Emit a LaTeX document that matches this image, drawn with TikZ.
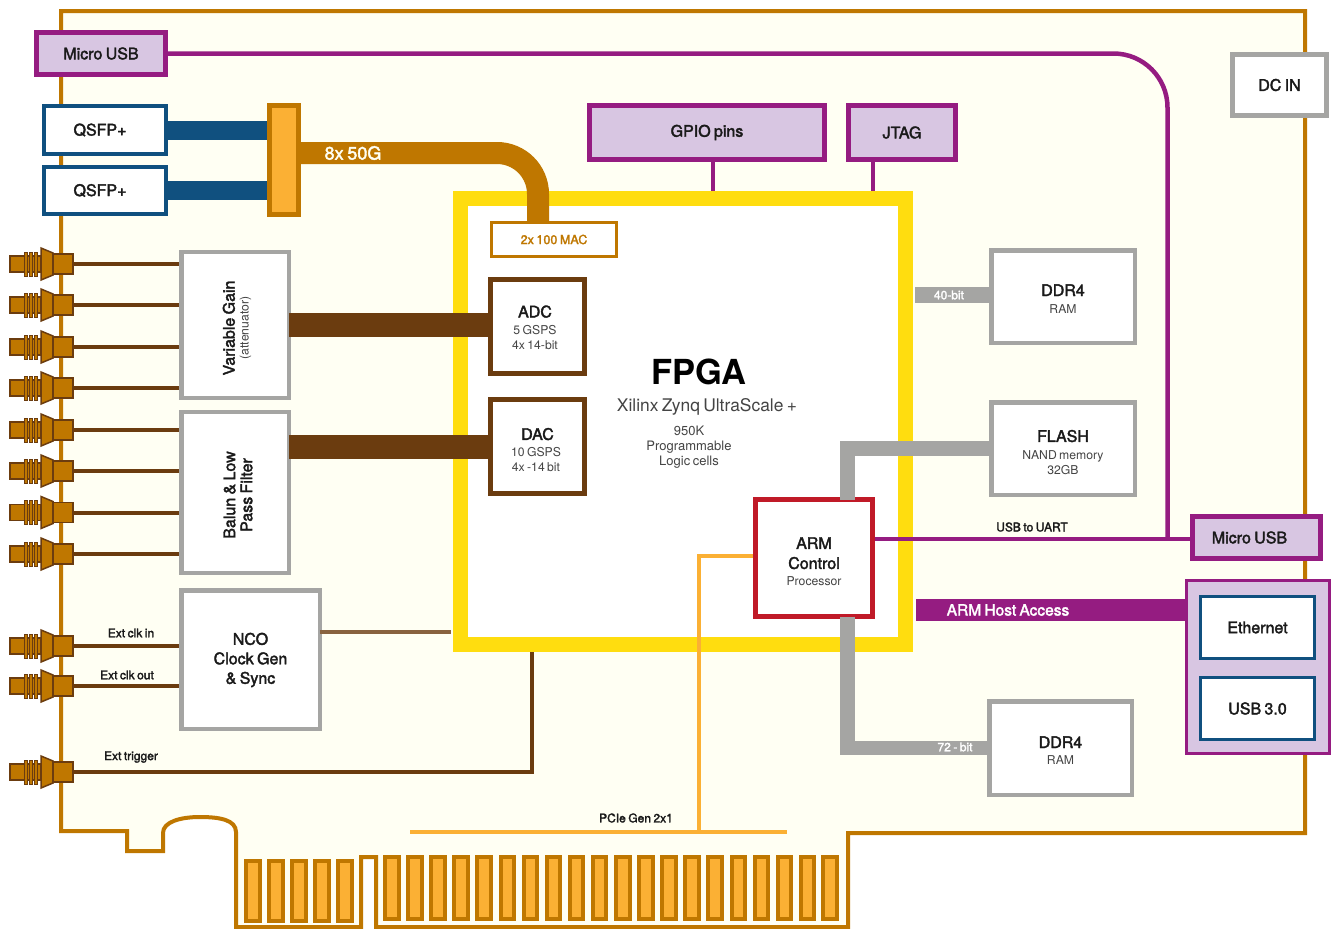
\documentclass[tikz,border=0pt]{standalone}
\usepackage{fontspec}
\setmainfont[WordSpace=0.7]{TeX Gyre Heros}
\newfontfamily\medfont[FakeBold=2.2,WordSpace=0.75]{TeX Gyre Heros}
\usetikzlibrary{calc}

\definecolor{boardline}{HTML}{BF7700}
\definecolor{boardfill}{HTML}{FFFFF3}
\definecolor{goldfill}{HTML}{FBB034}
\definecolor{fpgayellow}{HTML}{FFDD0F}
\definecolor{brownline}{HTML}{6B3C0F}
\definecolor{nodegray}{HTML}{A5A5A3}
\definecolor{purpleline}{HTML}{951C81}
\definecolor{lilacfill}{HTML}{D8C6E2}
\definecolor{blueline}{HTML}{10507F}
\definecolor{armred}{HTML}{C01A28}
\definecolor{inktext}{HTML}{1A1A1A}
\definecolor{subtext}{HTML}{444444}

\newcommand{\fs}[1]{\fontsize{#1}{#1}\selectfont}
\newcommand{\boxtitle}[1]{{\medfont\fs{16}\textcolor{inktext}{#1}}}
\newcommand{\boxsub}[1]{{\fs{12.2}\textcolor{subtext}{#1}}}
\newcommand{\dropby}[1]{\rule{0pt}{#1pt}}

\begin{document}
\begin{tikzpicture}[
    x=1pt, y=-1pt,
    block/.style={rectangle, draw, outer sep=0pt, inner sep=1pt, align=center, fill=white, font=\fs{16}},
    grayblock/.style={block, draw=nodegray, line width=4.5pt},
    portblock/.style={block, draw=purpleline, fill=lilacfill, line width=5pt},
    blueblock/.style={block, draw=blueline},
    brownblock/.style={block, draw=brownline, line width=5pt},
    tag/.style={font=\medfont\fs{12}, text=inktext, inner sep=0pt},
    whitetag/.style={font=\medfont\fs{12}, text=white, inner sep=0pt},
    bus/.style={line width=#1},
    wire/.style={draw=brownline, line width=4pt},
    finger/.style={draw=boardline, fill=goldfill, line width=4pt},
    sma/.pic={
        \draw[draw=brownline, fill=boardline, line width=1.5pt] (-63,-8) rectangle (-32,8);
        \foreach \rx in {-49,-44,-39}
            \draw[draw=brownline, fill=boardline, line width=1pt] (\rx,-12) rectangle ++(3,24);
        \draw[draw=brownline, fill=boardline, line width=1.5pt] (-32,-16) -- (-20,-11) -- (-20,11) -- (-32,16) -- cycle;
        \draw[draw=brownline, fill=boardline, line width=1.5pt] (-20,-10) rectangle (0,10);
        \coordinate (-tip) at (0,0);
    }
]
\useasboundingbox (0,0) rectangle (1331,929);

% Board outline
\draw[draw=boardline, fill=boardfill, line width=4pt]
    (61,11) -- (1305,11) -- (1305,833) -- (848,833) -- (848,927) -- (376,927) -- (376,857) -- (361,857)
    -- (361,927) -- (236,927) -- (236,832) .. controls (236,820) and (220,817) .. (200,817)
    .. controls (180,817) and (163,822) .. (163,833) -- (163,851) -- (127,851) -- (127,831) -- (61,831) -- cycle;

% Edge connector fingers
\foreach \fx in {246,269,292,315,338}
    \draw[finger] (\fx,861) rectangle ++(13.5,60);
\foreach \fx in {385,408.1,...,801,823}
    \draw[finger] (\fx,857) rectangle ++(13.5,62);

% FPGA
\node[block, draw=fpgayellow, line width=15pt, minimum width=445pt, minimum height=446pt] (fpga) at (683,421.5) {};
\node[font=\bfseries\fs{34.5}, text=black, inner sep=0pt] (fpgatitle) at (699,372) {FPGA};
\node[font=\fs{17.4}, text=subtext, inner sep=0pt] (fpgapart) at (707,407) {Xilinx Zynq UltraScale +};
\node[font=\fs{13}, text=subtext, align=center, inner sep=0pt] (fpgacells) at (689,447.5) {950K\\[2pt]Programmable\\[2pt]Logic cells};

% Left side blocks
\node[portblock, minimum width=129pt, minimum height=42pt] (usbtop) at (101,53.5) {\boxtitle{Micro USB}};
\node[blueblock, line width=4pt, minimum width=122pt, minimum height=48pt] (qsfpa) at (105,130) {\hspace*{-10pt}\boxtitle{QSFP+}};
\node[blueblock, line width=4pt, minimum width=122pt, minimum height=47pt] (qsfpb) at (105,190.5) {\hspace*{-10pt}\boxtitle{QSFP+}};
\node[block, draw=boardline, fill=goldfill, line width=5pt, minimum width=29pt, minimum height=109pt] (cage) at (284,160) {};
\node[grayblock, minimum width=107.5pt, minimum height=146pt] (gain) at (235,325) {};
\node[grayblock, minimum width=107.5pt, minimum height=161pt] (balun) at (235,492.5) {};
\node[grayblock, minimum width=138.5pt, minimum height=138.5pt] (nco) at (250.5,659.5) {\dropby{13}\boxtitle{NCO}\\[3.5pt]\boxtitle{Clock Gen}\\[3.5pt]\boxtitle{\& Sync}};

\node[rotate=90, align=center, inner sep=0pt] (gainlabel) at (237,328) {\boxtitle{Variable Gain}\\[2pt]\boxsub{(attenuator)}};
\node[rotate=90, align=center, inner sep=0pt] (balunlabel) at (238,495) {\boxtitle{Balun \& Low}\\[4pt]\boxtitle{Pass Filter}};

% Blocks inside the FPGA
\node[block, draw=boardline, line width=3pt, minimum width=125pt, minimum height=34pt] (mac) at (554,239.5) {\medfont\fs{12.5}\textcolor{boardline}{2x 100 MAC}};
\node[brownblock, minimum width=94pt, minimum height=94pt] (adc) at (537.5,326.5) {\dropby{14}\hspace*{-5pt}\boxtitle{ADC}\\[1pt]\hspace*{-5pt}\boxsub{5 GSPS}\\[-1pt]\hspace*{-5pt}\boxsub{4x 14-bit}};
\node[brownblock, minimum width=94pt, minimum height=94pt] (dac) at (537.5,446.5) {\dropby{19}\boxtitle{DAC}\\[1pt]\hspace*{-3pt}\boxsub{10 GSPS}\\[-1pt]\hspace*{-3pt}\boxsub{4x -14 bit}};
\node[block, draw=armred, line width=5pt, minimum width=117pt, minimum height=117pt] (arm) at (814,558) {\dropby{19}\boxtitle{ARM}\\[4pt]\boxtitle{Control}\\[1pt]\boxsub{Processor}};

% Top and right blocks
\node[portblock, minimum width=235pt, minimum height=54pt] (gpio) at (707,132.5) {\boxtitle{GPIO pins}};
\node[portblock, minimum width=107pt, minimum height=54pt] (jtag) at (902,132.5) {\boxtitle{JTAG}};
\node[grayblock, line width=5pt, minimum width=94pt, minimum height=61pt] (dcin) at (1279.5,85) {\boxtitle{DC IN}};
\node[grayblock, minimum width=143.5pt, minimum height=92.5pt] (ddrtop) at (1063,296.5) {\dropby{16}\boxtitle{DDR4}\\[1pt]\boxsub{RAM}};
\node[grayblock, minimum width=143.5pt, minimum height=92.5pt] (flash) at (1063,448.5) {\dropby{20}\boxtitle{FLASH}\\[2pt]\boxsub{NAND memory}\\[-1pt]\boxsub{32GB}};
\node[grayblock, minimum width=142.5pt, minimum height=93.5pt] (ddrbot) at (1060.5,748) {\dropby{16}\boxtitle{DDR4}\\[0pt]\boxsub{RAM}};
\node[portblock, minimum width=128pt, minimum height=42pt] (usbright) at (1256.5,537.5) {\hspace*{-14pt}\boxtitle{Micro USB}};
\node[portblock, line width=3pt, minimum width=143pt, minimum height=173pt] (hostpanel) at (1258,667) {};
\node[blueblock, line width=3pt, minimum width=114.5pt, minimum height=62pt] (ethernet) at (1257.5,627.5) {\boxtitle{Ethernet}};
\node[blueblock, line width=3pt, minimum width=114.5pt, minimum height=62pt] (usbthree) at (1257.5,708.5) {\boxtitle{USB 3.0}};

% SMA connectors
\foreach \i/\yy/\blk in {1/264/gain,2/305/gain,3/347/gain,4/388/gain,5/430/balun,6/471/balun,7/512.5/balun,8/554/balun,9/646/nco,10/686/nco} {
    \pic (sma\i) at (73,\yy) {sma};
    \draw[wire, shorten >=2pt] (sma\i-tip) -- (sma\i-tip -| \blk.west);
}
\pic (sma11) at (73,772) {sma};

% Gigabit links
\draw[bus=19pt, draw=blueline, shorten >=2.5pt] (qsfpa.east) -- (qsfpa.east -| cage.west);
\draw[bus=19pt, draw=blueline, shorten >=2.5pt] (qsfpb.east) -- (qsfpb.east -| cage.west);
\coordinate (cagetap) at (cage.east |- 0,153);
\draw[bus=22pt, draw=boardline, rounded corners=41pt] (cagetap) -| (mac.north -| 538,0);
\node[font=\medfont\fs{18}, text=boardfill, inner sep=0pt] (baud) at (353,153) {8x 50G};

% Analog buses
\draw[bus=24pt, draw=brownline] (gain.east) -- (gain.east -| adc.west);
\coordinate (dactap) at (balun.east |- 0,447);
\draw[bus=24pt, draw=brownline] (dactap) -- (dactap -| dac.west);

% Clock and trigger wires
\node[tag] (clkin) at (131,633) {Ext clk in};
\node[tag] (clkout) at (127,675) {Ext clk out};
\node[tag] (trigger) at (131,757) {Ext trigger};
\coordinate (fpgaclk) at (451,632);
\draw[line width=3.5pt, draw=brownline!80!white] (fpgaclk -| nco.east) -- (fpgaclk);
\coordinate (fpgatrig) at (532,652);
\draw[wire] (sma11-tip) -| (fpgatrig);

% Memory buses
\coordinate (memA) at (915,295);
\draw[bus=16pt, draw=nodegray] (memA) -- (memA -| ddrtop.west);
\node[whitetag] (widthA) at (949,295) {40-bit};
\coordinate (armup) at (847.5,499.5);
\draw[bus=14.5pt, draw=nodegray] (armup) |- (flash.west);
\coordinate (armdown) at (847.5,616.5);
\draw[bus=14.5pt, draw=nodegray] (armdown) |- (ddrbot.west);
\node[whitetag] (widthB) at (955,747) {72 - bit};

% Control links
\draw[line width=4pt, draw=purpleline] (gpio.south -| 713,0) -- (713,191);
\draw[line width=4pt, draw=purpleline] (jtag.south -| 873,0) -- (873,191);
\coordinate (armuart) at (arm.east |- 0,539);
\draw[line width=4.5pt, draw=purpleline, shorten <=2.5pt] (armuart) -- (armuart -| usbright.west);
\node[tag] (uart) at (1032,527) {USB to UART};
\coordinate (uartjoin) at (1167.5,539);
\draw[line width=4.5pt, draw=purpleline, rounded corners=54pt] (uartjoin) |- (usbtop.east);
\coordinate (hoststart) at (916,610);
\draw[bus=22pt, draw=purpleline] (hoststart) -- (hoststart -| hostpanel.west);
\node[font=\medfont\fs{15.5}, text=white, inner sep=0pt] (hostlabel) at (1008,610) {ARM Host Access};

% PCIe
\coordinate (pcieL) at (410,832);
\coordinate (pcieR) at (787,832);
\coordinate (pcieT) at (699,832);
\coordinate (armpcie) at (arm.west |- 0,556);
\draw[line width=4pt, draw=goldfill] (pcieL) -- (pcieR);
\draw[line width=4pt, draw=goldfill, shorten <=2.5pt] (armpcie) -| (pcieT);
\node[tag] (pcielabel) at (636,818) {PCIe Gen 2x1};

\end{tikzpicture}
\end{document}
